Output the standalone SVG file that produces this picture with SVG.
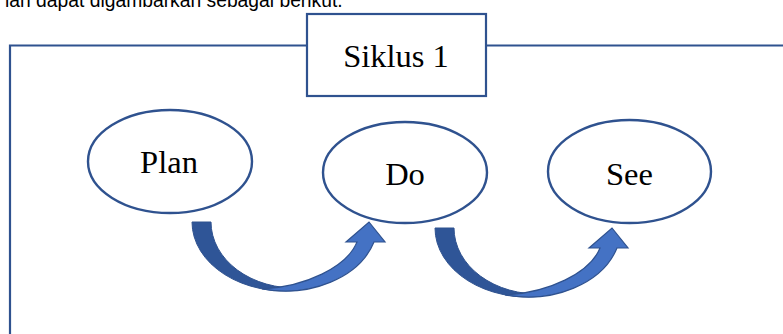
<svg xmlns="http://www.w3.org/2000/svg" width="783" height="334" viewBox="0 0 783 334">
<defs>
<style>
.frame{fill:none;stroke:#2F528F;stroke-width:2.2}
.box{fill:#fff;stroke:#2F528F;stroke-width:2.2}
.node{fill:#fff;stroke:#2F528F;stroke-width:2.4}
.lbl{font-family:"Liberation Serif","Times New Roman",serif;font-size:32.5px;fill:#000;text-anchor:middle}
.cap{font-family:"Liberation Sans",Arial,sans-serif;font-size:19.3px;fill:#000}
.back{fill:#2F5597;stroke:#2F528F;stroke-width:1}
.front{fill:#4472C4;stroke:#2F528F;stroke-width:1.2}
</style>
<g id="curvedArrow">
<path class="back" d="M192,222 A93,69 0 0 0 300,290.1 L300,287.9 A84,66 0 0 1 211,222 Z"/>
<path class="front" d="M262,288.9 A93,69 0 0 0 374,242 L385,242 L369,222 L346,242 L357,242 C347,267 305,287 262,288.9 Z"/>
</g>
</defs>
<text class="cap" x="5" y="7">lan dapat digambarkan sebagai berikut.</text>
<g id="frame">
<path class="frame" d="M10,334 V45.5 H307 M486,45.5 H783"/>
</g>
<g id="title">
<rect class="box" x="307" y="14" width="179" height="82"/>
<text class="lbl" x="396" y="67">Siklus 1</text>
</g>
<g id="connectors">
<use href="#curvedArrow"/>
<use href="#curvedArrow" transform="translate(243,6)"/>
</g>
<g id="node-plan">
<ellipse class="node" cx="170" cy="161.5" rx="82" ry="51.5"/>
<text class="lbl" x="169" y="172.7">Plan</text>
</g>
<g id="node-do">
<ellipse class="node" cx="405" cy="172.5" rx="82" ry="50.5"/>
<text class="lbl" x="405" y="185">Do</text>
</g>
<g id="node-see">
<ellipse class="node" cx="629.5" cy="171.5" rx="81.5" ry="51.5"/>
<text class="lbl" x="629.5" y="185">See</text>
</g>
</svg>
